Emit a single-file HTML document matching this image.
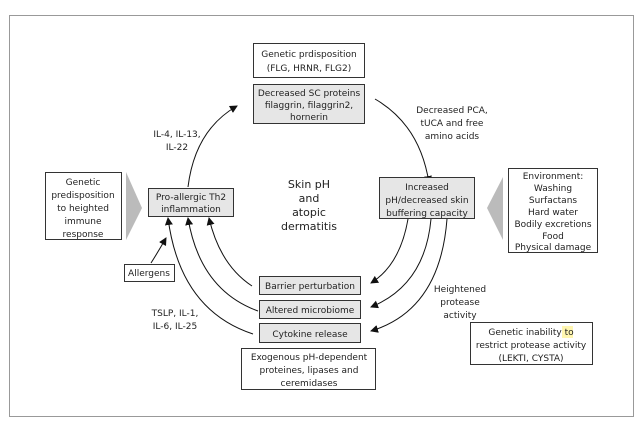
<!DOCTYPE html>
<html><head><meta charset="utf-8"><style>
html,body{margin:0;padding:0;background:#fff}
svg{display:block}
text{font-family:"DejaVu Sans","Liberation Sans",sans-serif;font-size:9px;fill:#222;text-anchor:middle}
.b{fill:#fff;stroke:#333;stroke-width:1}
.g{fill:#e6e6e6;stroke:#333;stroke-width:1}
.a{fill:none;stroke:#111;stroke-width:1;marker-end:url(#m)}
</style></head><body>
<svg width="640" height="430" viewBox="0 0 640 430">
<defs><marker id="m" markerWidth="8" markerHeight="8" refX="7" refY="4" orient="auto" markerUnits="userSpaceOnUse"><path d="M0,0 L8,4 L0,8 Z" fill="#111"/></marker></defs>
<rect x="9.5" y="15.5" width="624" height="401" fill="#fff" stroke="#999"/>
<rect class="b" x="253.5" y="43.5" width="111" height="34"/>
<text x="309" y="57">Genetic prdisposition</text><text x="309" y="71">(FLG, HRNR, FLG2)</text>
<rect class="g" x="253.5" y="84.5" width="111" height="39"/>
<text x="309" y="96">Decreased SC proteins</text><text x="309" y="108">filaggrin, filaggrin2,</text><text x="309" y="120">hornerin</text>
<text x="177" y="137">IL-4, IL-13,</text><text x="177" y="150">IL-22</text>
<text x="452" y="113">Decreased PCA,</text><text x="452" y="126">tUCA and free</text><text x="452" y="139">amino acids</text>
<path class="a" d="M188,187 Q195,130 237,106"/>
<path class="a" d="M375,99 Q420,125 429,183"/>
<rect class="g" x="379.5" y="177.5" width="95" height="41"/>
<text x="427" y="190">Increased</text><text x="427" y="203">pH/decreased skin</text><text x="427" y="216">buffering capacity</text>
<polygon points="487,208 503,177 503,240" fill="#bbb"/>
<rect class="b" x="508.5" y="168.5" width="89" height="84"/>
<text x="553" y="179">Environment:</text><text x="553" y="191">Washing</text><text x="553" y="203">Surfactans</text><text x="553" y="215">Hard water</text><text x="553" y="227">Bodily excretions</text><text x="553" y="239">Food</text><text x="553" y="250">Physical damage</text>
<rect class="b" x="45.5" y="172.5" width="76" height="67"/>
<text x="83" y="185">Genetic</text><text x="83" y="198">predisposition</text><text x="83" y="211">to heighted</text><text x="83" y="224">immune</text><text x="83" y="237">response</text>
<polygon points="126,172 142,208 126,240" fill="#bbb"/>
<rect class="g" x="148.5" y="188.5" width="85" height="28"/>
<text x="191" y="200">Pro-allergic Th2</text><text x="191" y="212">inflammation</text>
<text x="309" y="188" style="font-size:11px">Skin pH</text><text x="309" y="202" style="font-size:11px">and</text><text x="309" y="216" style="font-size:11px">atopic</text><text x="309" y="230" style="font-size:11px">dermatitis</text>
<rect class="b" x="124.5" y="264.5" width="50" height="17"/>
<text x="149" y="276">Allergens</text>
<path class="a" d="M151,263 Q158,252 166,238"/>
<rect class="g" x="259.5" y="276.5" width="101" height="18"/><text x="310" y="289">Barrier perturbation</text>
<rect class="g" x="259.5" y="300.5" width="101" height="18"/><text x="310" y="313">Altered microbiome</text>
<rect class="g" x="259.5" y="323.5" width="101" height="19"/><text x="310" y="337">Cytokine release</text>
<path class="a" d="M252,286 Q220,265 209,218"/>
<path class="a" d="M258,311 Q200,290 188,218"/>
<path class="a" d="M253,334 Q180,310 168,218"/>
<path class="a" d="M408,219 Q400,265 371,283"/>
<path class="a" d="M431,219 Q425,285 371,307"/>
<path class="a" d="M447,219 Q440,310 371,331"/>
<text x="460" y="292">Heightened</text><text x="460" y="305">protease</text><text x="460" y="318">activity</text>
<text x="175" y="316">TSLP, IL-1,</text><text x="175" y="329">IL-6, IL-25</text>
<rect class="b" x="241.5" y="348.5" width="134" height="41"/>
<text x="309" y="360">Exogenous pH-dependent</text><text x="309" y="373">proteines, lipases and</text><text x="309" y="386">ceremidases</text>
<rect class="b" x="470.5" y="322.5" width="122" height="42"/>
<rect x="562" y="326" width="11" height="12" fill="#fff6b0"/>
<text x="531" y="335">Genetic inability to</text><text x="531" y="348">restrict protease activity</text><text x="531" y="361">(LEKTI, CYSTA)</text>
</svg>
</body></html>
